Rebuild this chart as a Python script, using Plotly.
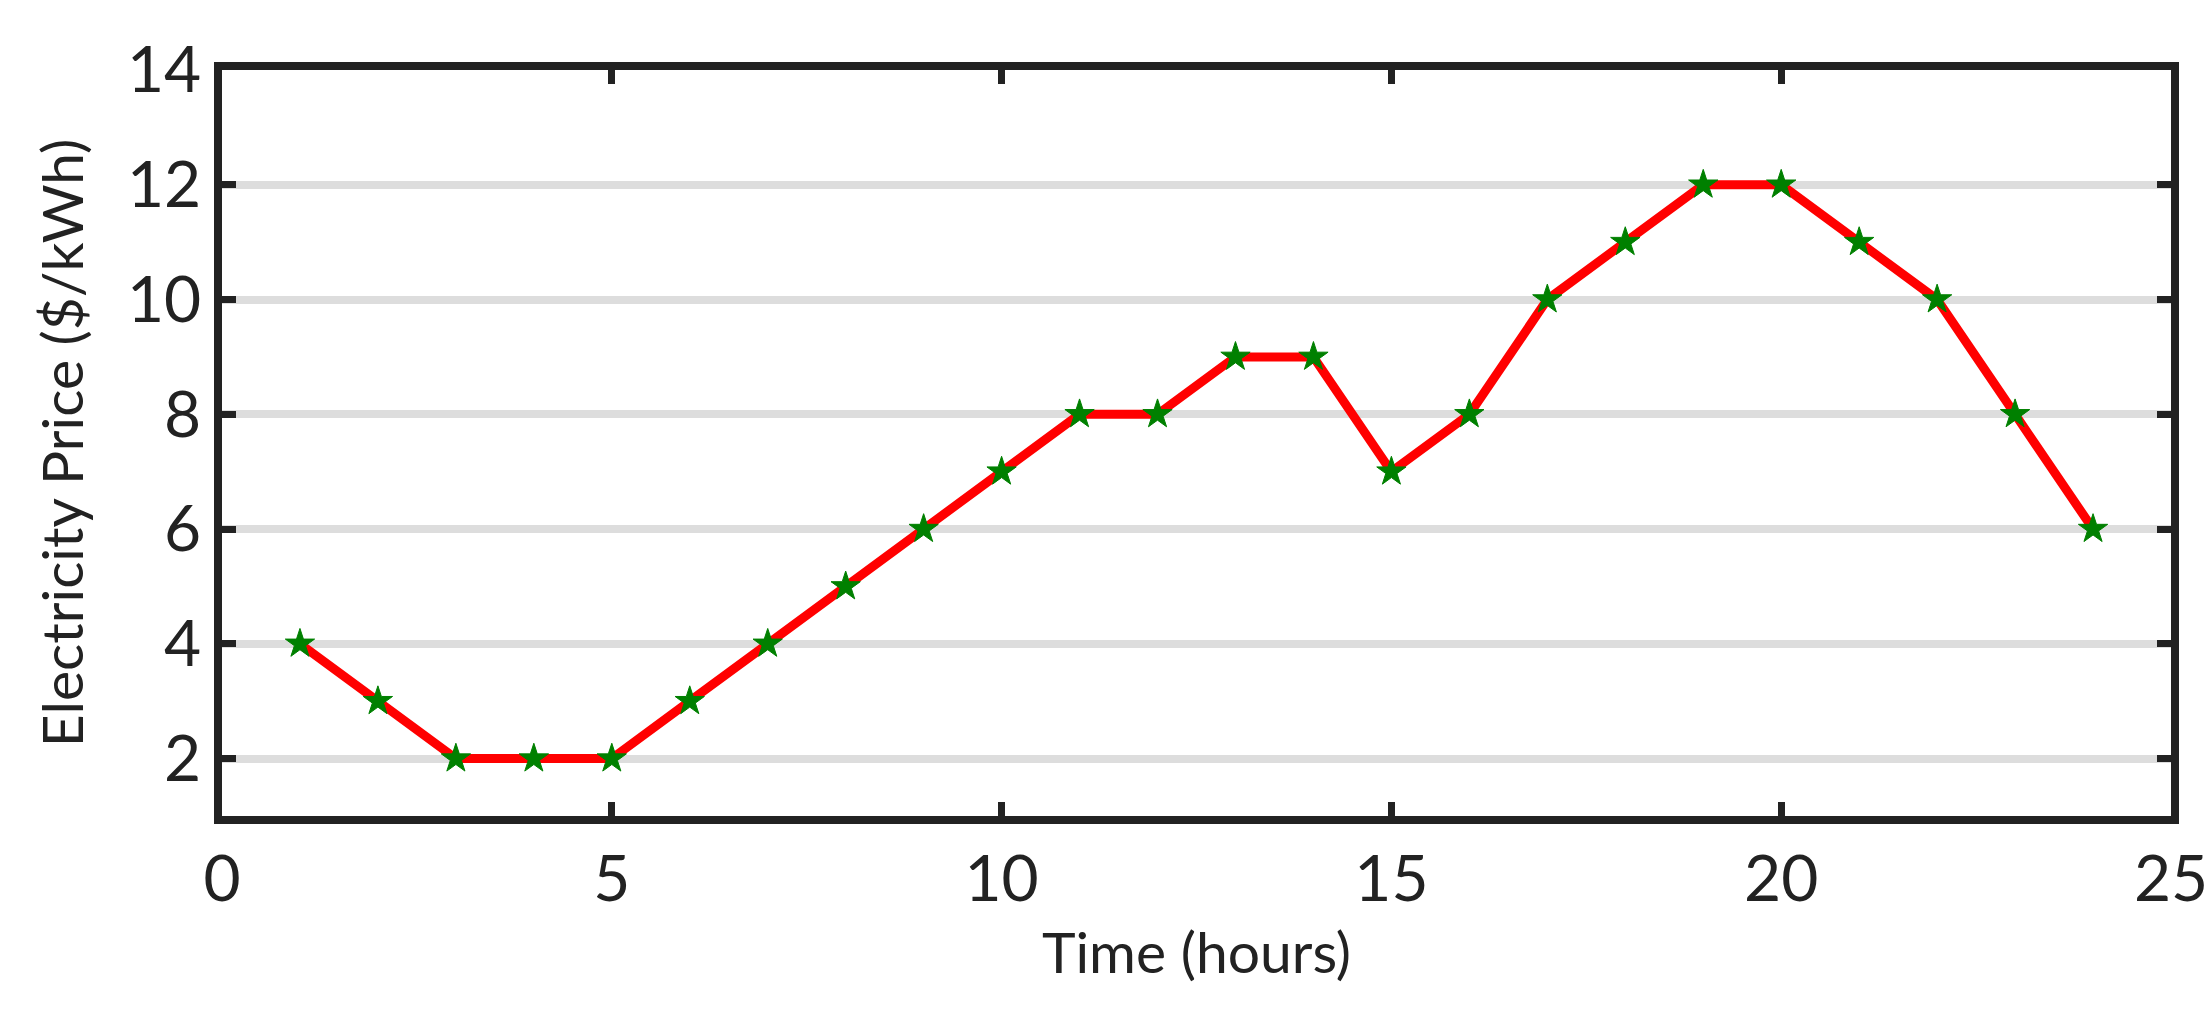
import plotly.graph_objs as go

# hourly electricity price
hours = list(range(1, 25))
price = [4, 3, 2, 2, 2, 3, 4, 5, 6, 7, 8, 8, 9, 9, 7, 8, 10, 11, 12, 12, 11, 10, 8, 6]

x_ticks = [0, 5, 10, 15, 20, 25]
y_ticks = [2, 4, 6, 8, 10, 12, 14]

FONT = "Lato"
AXIS_COLOR = "#222222"

fig = go.Figure()
fig.add_trace(go.Scatter(
    x=hours, y=price, mode="lines+markers",
    line=dict(color="#ff0000", width=9),
    marker=dict(symbol="star", size=22, color="#008000",
                line=dict(color="#008000", width=1)),
    showlegend=False,
))

axis_common = dict(
    showline=True, linewidth=8, linecolor=AXIS_COLOR, mirror="ticks",
    ticks="inside", ticklen=14, tickwidth=7, tickcolor=AXIS_COLOR,
    tickfont=dict(family=FONT, size=64, color="#222222"),
    zeroline=False,
)

fig.update_xaxes(
    range=[0, 25], tickvals=x_ticks, showgrid=False,
    title=dict(text="Time (hours)", font=dict(family=FONT, size=57, color="#222222"), standoff=22),
    **axis_common,
)
fig.update_yaxes(
    range=[1, 14], tickvals=y_ticks, showgrid=True, gridcolor="#dddddd", gridwidth=8,
    title=dict(text="Electricity Price ($/kWh)", font=dict(family=FONT, size=57, color="#222222"), standoff=28),
    **axis_common,
)

fig.update_layout(
    width=2212, height=1012,
    margin=dict(l=214, r=49, t=62, b=204),
    plot_bgcolor="white", paper_bgcolor="white",
)

fig.write_html("out.html")
